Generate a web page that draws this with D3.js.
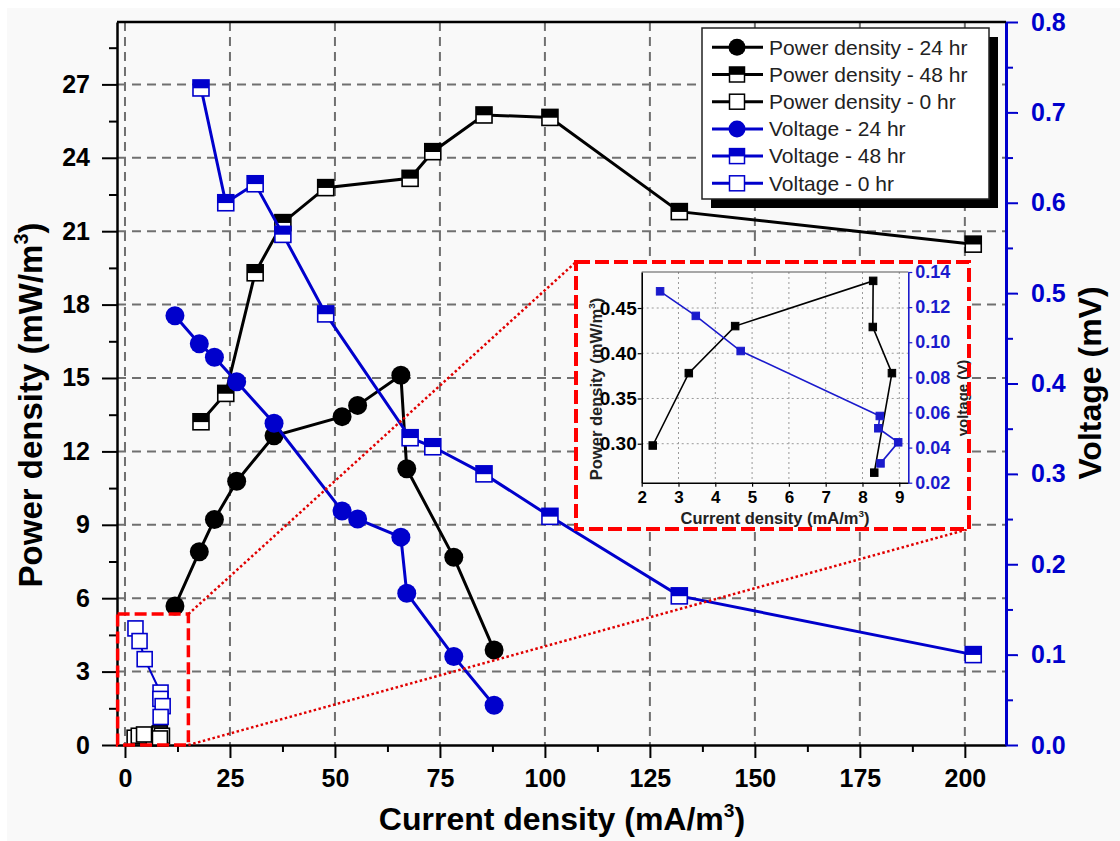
<!DOCTYPE html>
<html>
<head>
<meta charset="utf-8">
<script src="https://cdn.jsdelivr.net/npm/d3@7"></script>
<style>
  body { margin: 0; background: #fff; }
  svg text { font-family: "Liberation Sans", Arial, sans-serif; }
</style>
</head>
<body>
<div id="chart"></div>
<script>
// ---- values ----
const xTickValues = [0, 25, 50, 75, 100, 125, 150, 175, 200];
const powerTickValues = [0, 3, 6, 9, 12, 15, 18, 21, 24, 27];
const voltageTickValues = [0, 0.1, 0.2, 0.3, 0.4, 0.5, 0.6, 0.7, 0.8];

// 24 hr
const current24 = [11.9, 17.7, 21.3, 26.6, 35.5, 51.7, 55.4, 65.7, 67.1, 78.3, 87.9];
const power24 = [5.68, 7.9, 9.22, 10.78, 12.64, 13.42, 13.88, 15.11, 11.29, 7.67, 3.88];
const voltage24 = [0.475, 0.444, 0.429, 0.402, 0.356, 0.259, 0.250, 0.230, 0.168, 0.098, 0.044];

// 48 hr
const current48 = [18.1, 24.0, 31.0, 37.6, 47.8, 67.9, 73.3, 85.5, 101.2, 132.0, 202.0];
const power48 = [13.21, 14.37, 19.3, 21.35, 22.78, 23.16, 24.25, 25.75, 25.65, 21.8, 20.47];
const voltage48 = [0.727, 0.600, 0.621, 0.565, 0.477, 0.340, 0.330, 0.300, 0.253, 0.165, 0.100];

// 0 hr (same points are blown up in the inset)
const current0Power = [2.30, 3.28, 4.54, 8.29, 8.28, 8.80, 8.32];
const power0 = [0.298, 0.378, 0.430, 0.480, 0.429, 0.378, 0.268];
const current0Voltage = [2.50, 3.47, 4.69, 8.47, 8.43, 8.97, 8.49];
const voltage0 = [0.129, 0.115, 0.095, 0.058, 0.051, 0.043, 0.031];

// inset ticks
const insetXTicks = [2, 3, 4, 5, 6, 7, 8, 9];
const insetPowerTicks = [0.30, 0.35, 0.40, 0.45];
const insetVoltageTicks = [0.02, 0.04, 0.06, 0.08, 0.10, 0.12, 0.14];

// zoomed region marked on the main plot (data units)
const zoomRegionX = [-1.75, 15.1];
const zoomRegionY = [0, 5.35];

const BLACK = "#000";
const BLUE = "#0000cc";

const series = [
  { name: "Power density - 24 hr", x: current24, y: power24, axis: "power", color: BLACK, marker: "circle" },
  { name: "Power density - 48 hr", x: current48, y: power48, axis: "power", color: BLACK, marker: "half" },
  { name: "Power density - 0 hr", x: current0Power, y: power0, axis: "power", color: BLACK, marker: "open" },
  { name: "Voltage - 24 hr", x: current24, y: voltage24, axis: "volt", color: BLUE, marker: "circle" },
  { name: "Voltage - 48 hr", x: current48, y: voltage48, axis: "volt", color: BLUE, marker: "half" },
  { name: "Voltage - 0 hr", x: current0Voltage, y: voltage0, axis: "volt", color: BLUE, marker: "open" }
];

const width = 1120;
const height = 841;
const plot = { left: 117, right: 1006, top: 22, bottom: 745 };

const svg = d3.select("#chart").append("svg")
  .attr("width", width)
  .attr("height", height);

svg.append("rect").attr("width", width).attr("height", height).attr("fill", "#fff");
svg.append("rect").attr("x", 7).attr("y", 8).attr("width", width - 7).attr("height", height - 8).attr("fill", "#f9f9f9");

const x = d3.scaleLinear().domain([-1.9, 209.8]).range([plot.left, plot.right]);
const yPower = d3.scaleLinear().domain([0, 29.55]).range([plot.bottom, plot.top]);
const yVolt = d3.scaleLinear().domain([0, 0.8]).range([plot.bottom, plot.top]);

// dashed grid
const grid = svg.append("g")
  .attr("stroke", "#707070")
  .attr("stroke-width", 2)
  .attr("stroke-dasharray", "9,6");
grid.selectAll(".gx").data(xTickValues).join("line").attr("class", "gx")
  .attr("x1", d => x(d)).attr("x2", d => x(d))
  .attr("y1", plot.top).attr("y2", plot.bottom);
grid.selectAll(".gy").data(powerTickValues.filter(d => d > 0)).join("line").attr("class", "gy")
  .attr("x1", plot.left).attr("x2", plot.right)
  .attr("y1", d => yPower(d)).attr("y2", d => yPower(d));

// draws markers of one kind at pixel points
const drawMarkers = (g, pts, marker, color, size, stroke) => {
  if (marker === "circle") {
    g.selectAll("circle").data(pts).join("circle")
      .attr("cx", d => d[0]).attr("cy", d => d[1])
      .attr("r", size / 2).attr("fill", color);
    return;
  }
  const cells = g.selectAll("g").data(pts).join("g")
    .attr("transform", d => `translate(${d[0]},${d[1]})`);
  cells.append("rect")
    .attr("x", -size / 2).attr("y", -size / 2)
    .attr("width", size).attr("height", size)
    .attr("fill", marker === "filled" ? color : "#fff")
    .attr("stroke", color).attr("stroke-width", stroke);
  if (marker === "half") {
    cells.append("rect")
      .attr("x", -size / 2).attr("y", -size / 2)
      .attr("width", size).attr("height", size * 0.52)
      .attr("fill", color);
  }
};

const markerSize = { circle: 19, half: 16, open: 15 };

// main series: lines then markers
series.forEach(s => {
  const yScale = s.axis === "power" ? yPower : yVolt;
  const pts = s.x.map((v, i) => [x(v), yScale(s.y[i])]);
  const g = svg.append("g");
  g.append("path")
    .attr("d", d3.line()(pts))
    .attr("fill", "none")
    .attr("stroke", s.color)
    .attr("stroke-width", s.marker === "open" ? 2 : 3);
  drawMarkers(g.append("g"), pts, s.marker, s.color, markerSize[s.marker], 1.6);
});

// axes
const fontFam = "'Liberation Sans', Arial, sans-serif";
const styleAxis = (g, color, lineWidth) => {
  g.attr("font-family", fontFam).attr("font-size", 25).attr("font-weight", "bold");
  g.select(".domain").attr("stroke", color).attr("stroke-width", lineWidth);
  g.selectAll(".tick line").attr("stroke", color).attr("stroke-width", 2);
  g.selectAll(".tick text").attr("fill", color);
};

const minorX = d3.range(12.5, 200, 25);
const minorPower = d3.range(1.5, 29, 3);
const minorVolt = d3.range(0.05, 0.8, 0.1);

svg.append("g")
  .attr("transform", `translate(0,${plot.bottom})`)
  .call(d3.axisBottom(x).tickValues(minorX).tickSize(7).tickFormat(""))
  .call(g => { g.select(".domain").remove(); g.selectAll("line").attr("stroke", BLACK).attr("stroke-width", 2); });
svg.append("g")
  .attr("transform", `translate(0,${plot.bottom})`)
  .call(d3.axisBottom(x).tickValues(xTickValues).tickSize(13).tickSizeOuter(0).tickPadding(11))
  .call(g => styleAxis(g, BLACK, 2.5));

svg.append("g")
  .attr("transform", `translate(${plot.left},0)`)
  .call(d3.axisLeft(yPower).tickValues(minorPower).tickSize(8).tickFormat(""))
  .call(g => { g.select(".domain").remove(); g.selectAll("line").attr("stroke", BLACK).attr("stroke-width", 2); });
svg.append("g")
  .attr("transform", `translate(${plot.left},0)`)
  .call(d3.axisLeft(yPower).tickValues(powerTickValues).tickSize(15).tickSizeOuter(0).tickPadding(12).tickFormat(d3.format("d")))
  .call(g => styleAxis(g, BLACK, 2.5));

svg.append("g")
  .attr("transform", `translate(${plot.right},0)`)
  .call(d3.axisRight(yVolt).tickValues(minorVolt).tickSize(7).tickFormat(""))
  .call(g => { g.select(".domain").remove(); g.selectAll("line").attr("stroke", BLUE).attr("stroke-width", 2); });
svg.append("g")
  .attr("transform", `translate(${plot.right},0)`)
  .call(d3.axisRight(yVolt).tickValues(voltageTickValues).tickSize(12).tickSizeOuter(0).tickPadding(13).tickFormat(d3.format(".1f")))
  .call(g => styleAxis(g, BLUE, 3));

// top frame
svg.append("line")
  .attr("x1", plot.left).attr("x2", plot.right)
  .attr("y1", plot.top).attr("y2", plot.top)
  .attr("stroke", BLACK).attr("stroke-width", 2.5);

// text with a superscript "3"
const supText = (sel, pre, sup, post, fs) => {
  sel.append("tspan").text(pre);
  sel.append("tspan").attr("dy", -0.42 * fs).attr("font-size", fs * 0.6).text(sup);
  sel.append("tspan").attr("dy", 0.42 * fs).text(post);
};

supText(
  svg.append("text").attr("x", 562).attr("y", 830)
    .attr("text-anchor", "middle").attr("font-size", 32).attr("font-weight", "bold"),
  "Current density (mA/m", "3", ")", 32);

supText(
  svg.append("text").attr("transform", "translate(42,405) rotate(-90)")
    .attr("text-anchor", "middle").attr("font-size", 33).attr("font-weight", "bold"),
  "Power density (mW/m", "3", ")", 33);

svg.append("text").attr("transform", "translate(1101,383) rotate(-90)")
  .attr("text-anchor", "middle").attr("font-size", 32).attr("font-weight", "bold")
  .text("Voltage (mV)");

// zoom marker on the main plot and its connector lines
const inset = { x: 576, y: 262, w: 393, h: 267 };
const zx0 = x(zoomRegionX[0]), zx1 = x(zoomRegionX[1]);
const zy0 = yPower(zoomRegionY[1]), zy1 = yPower(zoomRegionY[0]);

svg.append("rect")
  .attr("x", zx0).attr("y", zy0)
  .attr("width", zx1 - zx0).attr("height", zy1 - zy0)
  .attr("fill", "none").attr("stroke", "#ff0000")
  .attr("stroke-width", 3.5).attr("stroke-dasharray", "12,5");

const connectors = svg.append("g")
  .attr("stroke", "#e00000").attr("stroke-width", 2.5).attr("stroke-dasharray", "2.5,2.5");
connectors.append("line").attr("x1", zx1).attr("y1", zy0).attr("x2", inset.x).attr("y2", inset.y);
connectors.append("line").attr("x1", zx1).attr("y1", zy1).attr("x2", inset.x + inset.w).attr("y2", inset.y + inset.h);

// ---- inset ----
const ig = svg.append("g");
ig.append("rect")
  .attr("x", inset.x).attr("y", inset.y).attr("width", inset.w).attr("height", inset.h)
  .attr("fill", "#fbfbfb");

const ip = { left: 641.7, right: 908.3, top: 272, bottom: 482.7 };
const xi = d3.scaleLinear().domain([2, 9.245]).range([ip.left, ip.right]);
const yiPower = d3.scaleLinear().domain([0.2569, 0.4898]).range([ip.bottom, ip.top]);
const yiVolt = d3.scaleLinear().domain([0.02, 0.14]).range([ip.bottom, ip.top]);

const igrid = ig.append("g")
  .attr("stroke", "#9a9a9a").attr("stroke-width", 1).attr("stroke-dasharray", "2,3");
igrid.selectAll(".gx").data(insetXTicks.slice(1)).join("line").attr("class", "gx")
  .attr("x1", d => xi(d)).attr("x2", d => xi(d)).attr("y1", ip.top).attr("y2", ip.bottom);
igrid.selectAll(".gy").data(insetPowerTicks).join("line").attr("class", "gy")
  .attr("x1", ip.left).attr("x2", ip.right).attr("y1", d => yiPower(d)).attr("y2", d => yiPower(d));

const insetSeries = [
  { x: current0Power, y: power0, scale: yiPower, color: BLACK },
  { x: current0Voltage, y: voltage0, scale: yiVolt, color: "#1a1acc" }
];
insetSeries.forEach(s => {
  const pts = s.x.map((v, i) => [xi(v), s.scale(s.y[i])]);
  const g = ig.append("g");
  g.append("path").attr("d", d3.line()(pts))
    .attr("fill", "none").attr("stroke", s.color).attr("stroke-width", 1.6);
  drawMarkers(g.append("g"), pts, "filled", s.color, 7.5, 1);
});

const styleInsetAxis = (g, color, fs) => {
  g.attr("font-family", fontFam).attr("font-size", fs).attr("font-weight", "bold");
  g.select(".domain").attr("stroke", color).attr("stroke-width", 1.6);
  g.selectAll(".tick line").attr("stroke", color).attr("stroke-width", 1.2);
  g.selectAll(".tick text").attr("fill", color);
};

ig.append("line")
  .attr("x1", ip.left).attr("x2", ip.right).attr("y1", ip.top).attr("y2", ip.top)
  .attr("stroke", "#555").attr("stroke-width", 1.2);
ig.append("g")
  .attr("transform", `translate(0,${ip.bottom})`)
  .call(d3.axisBottom(xi).tickValues(insetXTicks).tickSize(4).tickSizeOuter(0).tickPadding(4).tickFormat(d3.format("d")))
  .call(g => styleInsetAxis(g, BLACK, 17));
ig.append("g")
  .attr("transform", `translate(${ip.left},0)`)
  .call(d3.axisLeft(yiPower).tickValues(insetPowerTicks).tickSize(4).tickSizeOuter(0).tickPadding(1).tickFormat(d3.format(".2f")))
  .call(g => styleInsetAxis(g, BLACK, 19));
ig.append("g")
  .attr("transform", `translate(${ip.right},0)`)
  .call(d3.axisRight(yiVolt).tickValues(insetVoltageTicks).tickSize(4).tickSizeOuter(0).tickPadding(3).tickFormat(d3.format(".2f")))
  .call(g => styleInsetAxis(g, "#1a1acc", 18));

supText(
  ig.append("text").attr("x", 775).attr("y", 524)
    .attr("text-anchor", "middle").attr("font-size", 16.5).attr("font-weight", "bold").attr("fill", "#222"),
  "Current density (mA/m", "3", ")", 16.5);
supText(
  ig.append("text").attr("transform", "translate(602,389) rotate(-90)")
    .attr("text-anchor", "middle").attr("font-size", 16.5).attr("font-weight", "bold").attr("fill", "#222"),
  "Power density (mW/m", "3", ")", 16.5);
ig.append("text").attr("transform", "translate(968,398) rotate(-90)")
  .attr("text-anchor", "middle").attr("font-size", 15).attr("font-weight", "bold").attr("fill", "#222")
  .text("voltage (V)");

ig.append("rect")
  .attr("x", inset.x).attr("y", inset.y).attr("width", inset.w).attr("height", inset.h)
  .attr("fill", "none").attr("stroke", "#ff0000")
  .attr("stroke-width", 4).attr("stroke-dasharray", "14,5");

// ---- legend ----
const legend = { x: 702, y: 28, w: 287, h: 171, row: 27.2 };
svg.append("rect")
  .attr("x", legend.x + 9).attr("y", legend.y + 9)
  .attr("width", legend.w).attr("height", legend.h).attr("fill", BLACK);
svg.append("rect")
  .attr("x", legend.x).attr("y", legend.y)
  .attr("width", legend.w).attr("height", legend.h)
  .attr("fill", "#fff").attr("stroke", "#222").attr("stroke-width", 1.5);

const rows = svg.append("g").selectAll("g").data(series).join("g")
  .attr("transform", (_, i) => `translate(${legend.x},${legend.y + 19.3 + i * legend.row})`);
rows.append("line")
  .attr("x1", 10).attr("x2", 61).attr("y1", 0).attr("y2", 0)
  .attr("stroke", d => d.color).attr("stroke-width", 3);
rows.each(function (d) {
  const size = d.marker === "circle" ? 17 : 15;
  drawMarkers(d3.select(this).append("g"), [[35, 0]], d.marker, d.color, size, 1.5);
});
rows.append("text")
  .attr("x", 67).attr("y", 0).attr("dy", "0.35em")
  .attr("font-size", 21).attr("fill", "#222")
  .text(d => d.name);
</script>
</body>
</html>
